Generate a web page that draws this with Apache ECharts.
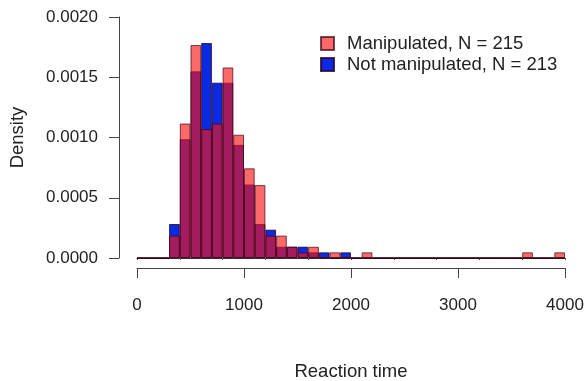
<!DOCTYPE html>
<html>
<head>
<meta charset="utf-8">
<script src="https://cdn.jsdelivr.net/npm/echarts@6/dist/echarts.min.js"></script>
<style>
  html, body { margin: 0; padding: 0; background: #fff; }
  #chart { width: 585px; height: 381px; }
</style>
</head>
<body>
<div id="chart"></div>
<script>
// histogram bins, width 100, from 0 to 4000
const binStarts = [];
for (let b = 0; b < 4000; b += 100) binStarts.push(b);

// densities (one value per bin)
const manipulated = [
  0, 0, 0, 0.000186, 0.001116, 0.001767, 0.00107, 0.001116, 0.001581, 0.001023,
  0.000744, 0.000605, 0.000186, 0.000186, 0.000093, 0.000047, 0.000093, 0, 0.000047, 0,
  0, 0.000047, 0, 0, 0, 0, 0, 0, 0, 0,
  0, 0, 0, 0, 0, 0, 0.000047, 0, 0, 0.000047
];
const notManipulated = [
  0, 0, 0, 0.000282, 0.000986, 0.001549, 0.001784, 0.001455, 0.001455, 0.000939,
  0.00061, 0.000282, 0.000235, 0.000094, 0.000094, 0.000094, 0.000047, 0.000047, 0, 0.000047,
  0, 0, 0, 0, 0, 0, 0, 0, 0, 0,
  0, 0, 0, 0, 0, 0, 0, 0, 0, 0
];
const yTicks = [0, 0.0005, 0.001, 0.0015, 0.002];
const xTicks = [0, 1000, 2000, 3000, 4000];

const FONT = 'Liberation Sans';
const chart = echarts.init(document.getElementById('chart'));

chart.setOption({
  animation: false,
  textStyle: { fontFamily: FONT },
  legend: {
    orient: 'vertical',
    left: 315,
    top: 29,
    itemWidth: 13,
    itemHeight: 13,
    itemGap: 2,
    icon: 'rect',
    data: ['Manipulated, N = 215', 'Not manipulated, N = 213'],
    textStyle: { fontSize: 18.5, color: '#222', fontFamily: FONT, padding: [0, 0, 0, 8] }
  },
  grid: { left: 137, right: 20, top: 17, bottom: 123, outerBoundsMode: 'none' },
  xAxis: [
    {
      type: 'category',
      data: binStarts,
      boundaryGap: true,
      axisLine: { show: true, lineStyle: { color: '#333', width: 1 } },
      axisTick: { show: true, length: 2, lineStyle: { color: '#555' } },
      axisLabel: { show: false }
    },
    {
      type: 'value',
      min: xTicks[0],
      max: xTicks[xTicks.length - 1],
      interval: 1000,
      position: 'bottom',
      offset: 10,
      name: 'Reaction time',
      nameLocation: 'middle',
      nameGap: 94,
      nameTextStyle: { fontSize: 18.5, color: '#222', fontFamily: FONT },
      axisLine: { show: true, onZero: false, lineStyle: { color: '#444', width: 1 } },
      axisTick: { show: true, length: 10, lineStyle: { color: '#444' } },
      axisLabel: { fontSize: 17, color: '#222', margin: 29, fontFamily: FONT, formatter: v => String(v) },
      splitLine: { show: false }
    }
  ],
  yAxis: {
    type: 'value',
    min: yTicks[0],
    max: yTicks[yTicks.length - 1],
    interval: 0.0005,
    offset: 18,
    name: 'Density',
    nameLocation: 'middle',
    nameGap: 92,
    nameMoveOverlap: false,
    nameTextStyle: { fontSize: 18.5, color: '#222', fontFamily: FONT },
    axisLine: { show: true, onZero: false, lineStyle: { color: '#444', width: 1 } },
    axisTick: { show: true, length: 10, lineStyle: { color: '#444' } },
    axisLabel: {
      fontSize: 17, color: '#222', margin: 21, fontFamily: FONT,
      formatter: v => v.toFixed(4)
    },
    splitLine: { show: false }
  },
  series: [
    {
      name: 'Not manipulated, N = 213',
      type: 'bar',
      xAxisIndex: 0,
      data: notManipulated,
      barWidth: '100%',
      barGap: '-100%',
      itemStyle: { color: '#0a2ae6', borderColor: 'rgba(40,0,30,0.8)', borderWidth: 1 }
    },
    {
      name: 'Manipulated, N = 215',
      type: 'bar',
      xAxisIndex: 0,
      data: manipulated,
      barWidth: '100%',
      barGap: '-100%',
      itemStyle: { color: 'rgba(250,20,20,0.64)', borderColor: 'rgba(60,0,20,0.7)', borderWidth: 1 }
    }
  ]
});
</script>
</body>
</html>
